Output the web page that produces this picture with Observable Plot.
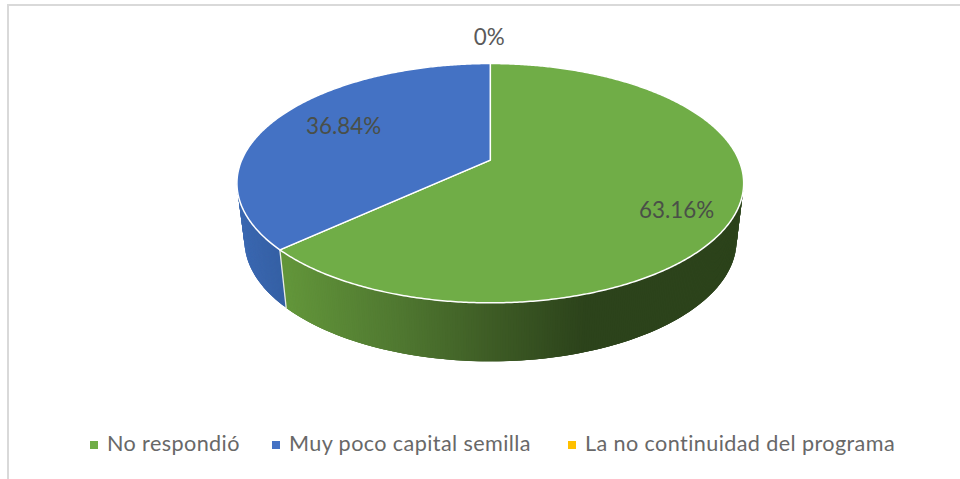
<!DOCTYPE html>
<html lang="es">
<head>
<meta charset="utf-8">
<script src="https://cdn.jsdelivr.net/npm/d3@7"></script>
<script src="https://cdn.jsdelivr.net/npm/@observablehq/plot@0.6"></script>
<style>
  html, body { margin: 0; padding: 0; background: #fff; }
  #page { position: relative; width: 960px; height: 479px; overflow: hidden; }
  #frame { position: absolute; left: 7px; top: 4px; width: 960px; height: 480px;
           border-top: 2px solid #d9d9d9; border-left: 2px solid #d9d9d9; }
  #chart { position: absolute; left: 0; top: 0; }
  #chart svg { display: block; background: transparent; }
  #legend { position: absolute; top: 429px; left: 0; width: 960px; height: 28px;
            font: 21.6px Lato, sans-serif; color: #686868; letter-spacing: 0.4px; }
  #legend .item { position: absolute; top: 0; display: flex; align-items: center; height: 28px; white-space: nowrap; }
  #legend .sw { display: inline-block; width: 8px; height: 8px; margin-right: 9px; position: relative; top: 2px; }
</style>
</head>
<body>
<div id="page">
  <div id="frame"></div>
  <div id="chart"></div>
  <div id="legend"></div>
</div>
<script>
// ---- data ----
const categories = ["No respondió", "Muy poco capital semilla", "La no continuidad del programa"];
const percents   = [63.16, 36.84, 0];
const labels     = ["63.16%", "36.84%", "0%"];
const colors     = ["#70ad47", "#4472c4", "#ffc000"];

// ---- layout of the tilted disc ----
const W = 960, H = 425;
const persp = 0.193;                                   // foreshortening of the far edge
const topDisc    = {cx: 489.8, cy: 159.6, a: 248.6, b: 115.2};
const bottomDisc = {cx: 490, cy: 216.6, a: 241.4, b: 116.4};
const labelRadius = [0.76, 0.69, 1.34];
const labelShiftY = [13, -3, 0];
const labelShiftX = [2.5, 2.5, -1];
const legendLeft  = [90, 272, 568];

// angle (degrees clockwise from 12 o'clock) to position on a disc
function project(disc, deg, r = 1) {
  const t = deg * Math.PI / 180;
  const d = 1 + persp * r * Math.cos(t);
  return {
    x: disc.cx + disc.a * r * Math.sin(t) / d,
    y: disc.cy - disc.b * r * Math.cos(t) / d
  };
}

// slice start and end angles, from the values
const total = d3.sum(percents);
let acc = 0;
const slices = categories.map((name, i) => {
  const start = acc / total * 360;
  acc += percents[i];
  return {i, name, start, end: acc / total * 360, color: colors[i]};
});

// top faces
const topFace = [];
for (const s of slices) {
  if (s.end - s.start <= 0) continue;
  topFace.push({id: s.i, ...project(topDisc, 0, 0), color: s.color});
  const n = Math.ceil(s.end - s.start) * 2;
  for (let k = 0; k <= n; k++) {
    topFace.push({id: s.i, ...project(topDisc, s.start + (s.end - s.start) * k / n), color: s.color});
  }
  topFace.push({id: s.i, ...project(topDisc, 0, 0), color: s.color});
}

// shading of the visible side wall
const greenShade = d3.scaleLinear()
  .domain([285, 400, 490, 585]).range(["#62953a", "#4f7730", "#3e5c25", "#2c431b"]).clamp(true);
const blueShade = d3.scaleLinear()
  .domain([240, 285]).range(["#3a67b0", "#345fa3"]).clamp(true);

const edge = Math.acos(-persp) * 180 / Math.PI;        // silhouette of the disc
const wallFrom = edge, wallTo = 360 - edge;
const stepDeg = 0.5;
const wall = [];
let wallId = 0;
for (const s of slices) {
  const lo = Math.max(s.start, wallFrom), hi = Math.min(s.end, wallTo);
  // each strip runs to the far end of the next one; the next strip paints over
  // the overlap, so no hairline shows between neighbouring strips
  for (let a = lo; a < hi; a += stepDeg) {
    const mid = Math.min(a + stepDeg / 2, hi);
    const b = Math.min(a + stepDeg * 3, hi);
    const t0 = project(topDisc, a), t1 = project(topDisc, b);
    const b1 = project(bottomDisc, b), b0 = project(bottomDisc, a);
    const mx = project(topDisc, mid).x;
    const color = s.i === 0 ? greenShade(mx) : blueShade(mx);
    for (const p of [t0, t1, b1, b0]) wall.push({id: wallId, x: p.x, y: p.y, color});
    wallId++;
  }
}

// white seam on the wall between the two slices
const seamAngle = slices[0].end;
const seam = [project(topDisc, seamAngle), project(bottomDisc, seamAngle)];

// value labels
const labelRows = slices.map(s => {
  const mid = s.end - s.start > 0 ? (s.start + s.end) / 2 : s.start % 360;
  const p = project(topDisc, s.end - s.start > 0 ? mid : 0, labelRadius[s.i]);
  return {x: p.x + labelShiftX[s.i], y: p.y + labelShiftY[s.i], text: labels[s.i], onPie: percents[s.i] > 0};
});

const chart = Plot.plot({
  width: W, height: H,
  marginTop: 0, marginRight: 0, marginBottom: 0, marginLeft: 0,
  x: {domain: [0, W], axis: null},
  y: {domain: [H, 0], axis: null},
  color: {type: "identity"},
  style: {background: "transparent"},
  marks: [
    Plot.line(wall, {x: "x", y: "y", z: "id", fill: "color", stroke: "none", curve: "linear-closed"}),
    Plot.line(seam, {x: "x", y: "y", stroke: "#e8ece6", strokeWidth: 1.3}),
    Plot.line(topFace, {x: "x", y: "y", z: "id", fill: "color", stroke: "#ffffff", strokeWidth: 1.5, strokeLinejoin: "round"}),
    Plot.text(labelRows, {x: "x", y: "y", text: "text", fontFamily: "Lato, sans-serif", fontSize: 22.4,
      fill: d => d.onPie ? "#4a4f48" : "#5a5a5a"})
  ]
});
document.getElementById("chart").append(chart);

// legend below the plot
const legend = d3.select("#legend");
categories.forEach((name, i) => {
  const item = legend.append("div").attr("class", "item").style("left", legendLeft[i] + "px");
  item.append("span").attr("class", "sw").style("background", colors[i]);
  item.append("span").text(name);
});
</script>
</body>
</html>
